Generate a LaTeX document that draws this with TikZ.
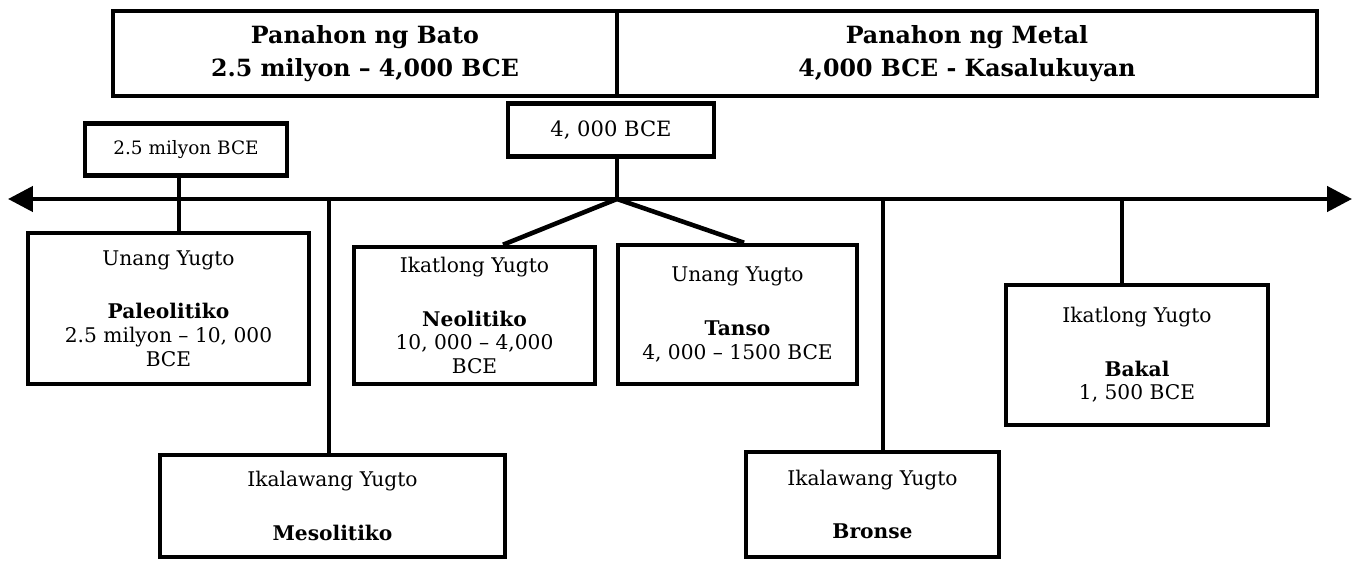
\documentclass[tikz,border=0pt]{standalone}
\usepackage{fontspec}
\setmainfont{DejaVu Serif}
\usetikzlibrary{arrows.meta}
\tikzstyle{panahon}=[draw,line width=2.6pt,inner sep=0pt,align=center,font=\bfseries\fontsize{13.5}{19}\selectfont,minimum height=1.7cm]
\tikzstyle{petsa}=[draw,line width=2.6pt,inner sep=0pt,align=center,minimum height=1.05cm]
\tikzstyle{yugto}=[draw,line width=2.6pt,inner sep=0pt,align=center,font=\fontsize{11.5}{13.5}\selectfont]
\tikzstyle{linya}=[line width=2.6pt]

\begin{document}
\begin{tikzpicture}[x=0.02cm,y=-0.02cm]
	\useasboundingbox (0,0) rectangle (1364,561);

	\node(bato)[panahon,minimum width=10.08cm] at (365,53.5){Panahon ng Bato\\2.5 milyon – 4,000 BCE};
	\node(metal)[panahon,minimum width=14cm] at (967,53.5){Panahon ng Metal\\4,000 BCE - Kasalukuyan};

	\node(d4000)[petsa,minimum width=4.12cm,font=\fontsize{12}{14}\selectfont] at (611,130){4, 000 BCE};
	\node(d25)[petsa,minimum width=4.04cm,font=\fontsize{10.5}{12}\selectfont] at (186,149.5){2.5 milyon BCE};

	\node(paleo)[yugto,minimum width=5.62cm,minimum height=3.02cm] at (168.5,308.5){Unang Yugto\\[17pt]\textbf{Paleolitiko}\\2.5 milyon – 10, 000\\BCE};
	\node(meso)[yugto,minimum width=6.9cm,minimum height=2.04cm] at (332.5,506){Ikalawang Yugto\\[17pt]\textbf{Mesolitiko}};
	\node(neo)[yugto,minimum width=4.82cm,minimum height=2.74cm] at (474.5,315.5){Ikatlong Yugto\\[17pt]\textbf{Neolitiko}\\10, 000 – 4,000\\BCE};
	\node(tanso)[yugto,minimum width=4.78cm,minimum height=2.78cm] at (737.5,314.5){Unang Yugto\\[17pt]\textbf{Tanso}\\4, 000 – 1500 BCE};
	\node(bronse)[yugto,minimum width=5.06cm,minimum height=2.1cm] at (872.5,504.5){Ikalawang Yugto\\[17pt]\textbf{Bronse}};
	\node(bakal)[yugto,minimum width=5.24cm,minimum height=2.8cm] at (1137,355){Ikatlong Yugto\\[17pt]\textbf{Bakal}\\1, 500 BCE};

	\coordinate(kaliwa) at (8,199);
	\coordinate(kanan) at (1352,199);
	\coordinate(hati) at (617,199);

	\draw[linya,{Triangle[length=0.5cm,width=0.5cm]}-{Triangle[length=0.5cm,width=0.5cm]}] (kaliwa) -- (kanan);

	\draw[linya] ([xshift=-0.14cm]d25.south) -- ([xshift=-0.14cm]d25.south |- paleo.north);
	\draw[linya] ([xshift=-0.07cm]meso.north |- kaliwa) -- ([xshift=-0.07cm]meso.north);
	\draw[linya] (hati |- d4000.south) -- (hati);
	\draw[linya] ([xshift=0.57cm]neo.north) -- (hati) -- ([xshift=0.13cm]tanso.north);
	\draw[linya] ([xshift=0.21cm]bronse.north |- kanan) -- ([xshift=0.21cm]bronse.north);
	\draw[linya] ([xshift=-0.3cm]bakal.north |- kanan) -- ([xshift=-0.3cm]bakal.north);
\end{tikzpicture}
\end{document}
